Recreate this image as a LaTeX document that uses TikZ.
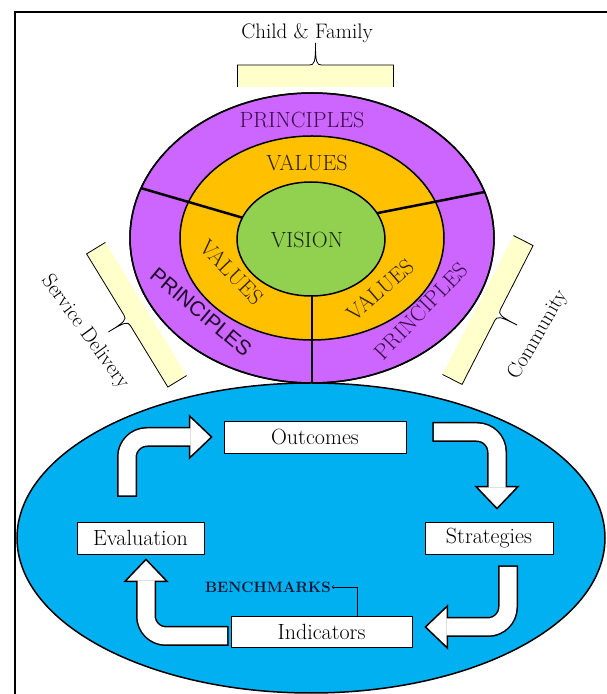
\documentclass[tikz,border=0pt]{standalone}
\usepackage{fontspec}
\newfontfamily\princsans{Liberation Sans}
\usepackage{tikz}
\usetikzlibrary{calc}
\definecolor{princ}{RGB}{204,102,255}
\definecolor{valorange}{RGB}{255,192,0}
\definecolor{visgreen}{RGB}{146,208,80}
\definecolor{skyb}{RGB}{0,176,240}
\definecolor{lightyel}{RGB}{255,255,204}
\definecolor{princtext}{RGB}{58,10,76}
\definecolor{valtext}{RGB}{48,34,0}
\definecolor{vistext}{RGB}{26,38,20}
\definecolor{benchtext}{RGB}{10,20,46}

\begin{document}
\begin{tikzpicture}[x=1pt, y=1pt,
		bigtext/.style={font=\fontsize{22}{26}\selectfont},
		sidetext/.style={font=\fontsize{21}{25}\selectfont},
		box/.style={draw, line width=0.8pt, fill=white, inner sep=0pt, minimum height=32pt, font=\fontsize{22}{26}\selectfont},
		shaftout/.style={line width=20pt, rounded corners=20pt},
		shaftin/.style={line width=17pt, white, rounded corners=20pt},
		headtip/.style={draw=black, line width=1.5pt, fill=white, line join=miter},
		bracket/.pic={
			\fill[lightyel] (-78,0) rectangle (78,22);
			\draw[line width=0.8pt] (-78,0)--(-78,22)--(-6,22) .. controls (-1,22) and (0,25) .. (0,44) .. controls (0,25) and (1,22) .. (6,22)--(78,22)--(78,0);
		}]
			\useasboundingbox (0,0) rectangle (607,694);
			\draw[line width=1.2pt](15,0)--(15,682)--(607,682);

			\pic at (315.5,607) {bracket};
			\pic[rotate=121.4] at (146,385) {bracket};
			\pic[rotate=-117.1] at (478,389) {bracket};
			\node[sidetext] (child) at (307,661) {Child \& Family};
			\node[sidetext, rotate=-54] (serv) at (85,362) {Service Delivery};
			\node[sidetext, rotate=60] (comm) at (538,359) {Community};

			\filldraw[fill=princ, line width=1.5pt](312,456) ellipse [x radius=182, y radius=145];
			\filldraw[fill=valorange, line width=1.5pt](312,456) ellipse [x radius=132, y radius=102];
			\begin{scope}
				\clip (312,456) ellipse [x radius=182, y radius=145];
				\draw[line width=2.5pt](312,456)--(120,512);
				\draw[line width=2.5pt](312,468)--(520,509);
				\draw[line width=2.5pt](312,456)--(312,300);
			\end{scope}
			\filldraw[fill=visgreen, line width=1.5pt](311,455) ellipse [x radius=74, y radius=57];
			\draw[line width=1.5pt](312,456) ellipse [x radius=182, y radius=145];

			\node[bigtext, text=princtext] (ptop) at (302,574) {PRINCIPLES};
			\node[bigtext, text=valtext] (vtop) at (307,531) {VALUES};
			\node[bigtext, text=vistext] (vis) at (307,454) {VISION};
			\node[bigtext, text=valtext, rotate=-46] (vleft) at (232,422) {VALUES};
			\node[font=\princsans\fontsize{21}{25}\selectfont, text=princtext!55!black, rotate=-40] (pleft) at (201,382) {PRINCIPLES};
			\node[bigtext, text=valtext, rotate=41] (vright) at (380,404) {VALUES};
			\node[bigtext, text=princtext, rotate=46] (pright) at (421,383) {PRINCIPLES};

			\filldraw[fill=skyb, line width=1.5pt](311,156) ellipse [x radius=294, y radius=155];

			\node[box, minimum width=182pt] (outc) at (315,257) {Outcomes};
			\node[box, minimum width=127pt] (eval) at (140.5,156) {Evaluation};
			\node[box, minimum width=128pt] (strat) at (489,156) {Strategies};
			\node[box, minimum width=181pt, minimum height=31pt] (ind) at (321.5,62.5) {Indicators};
			\node[font=\bfseries\fontsize{15}{18}\selectfont, text=benchtext, inner sep=1pt] (bench) at (268,107) {BENCHMARKS};
			\draw[->, line width=0.6pt]($(ind.north)+(35.5,0)$)|-(bench.east);

			\coordinate (a1s) at (127,197);
			\coordinate (a1t) at ($(outc.west)+(-12,0)$);
			\draw[shaftout](a1s)|-($(a1t)+(-22,0)$);
			\filldraw[headtip](a1t)--($(a1t)+(-22,21)$)--($(a1t)+(-22,-21)$)--cycle;
			\draw[shaftin]($(a1s)+(0,1.5)$)|-($(a1t)+(-21,0)$);

			\coordinate (a2s) at ($(outc.east)+(26,5)$);
			\coordinate (a2t) at ($(strat.north)+(8,13)$);
			\draw[shaftout](a2s)-|($(a2t)+(0,22)$);
			\filldraw[headtip](a2t)--($(a2t)+(21,22)$)--($(a2t)+(-21,22)$)--cycle;
			\draw[shaftin]($(a2s)+(1.5,0)$)-|($(a2t)+(0,21)$);

			\coordinate (a3s) at ($(strat.south)+(19,-11)$);
			\coordinate (a3t) at ($(ind.east)+(13,4.5)$);
			\draw[shaftout](a3s)|-($(a3t)+(22,0)$);
			\filldraw[headtip](a3t)--($(a3t)+(22,21)$)--($(a3t)+(22,-21)$)--cycle;
			\draw[shaftin]($(a3s)+(0,-1.5)$)|-($(a3t)+(21,0)$);

			\coordinate (a4s) at ($(ind.west)+(-2,-4.5)$);
			\coordinate (a4t) at ($(eval.south)+(5.5,-5)$);
			\draw[shaftout](a4s)-|($(a4t)+(0,-22)$);
			\filldraw[headtip](a4t)--($(a4t)+(-21,-22)$)--($(a4t)+(21,-22)$)--cycle;
			\draw[shaftin]($(a4s)+(-1.5,0)$)-|($(a4t)+(0,-21)$);
		\end{tikzpicture}
\end{document}
